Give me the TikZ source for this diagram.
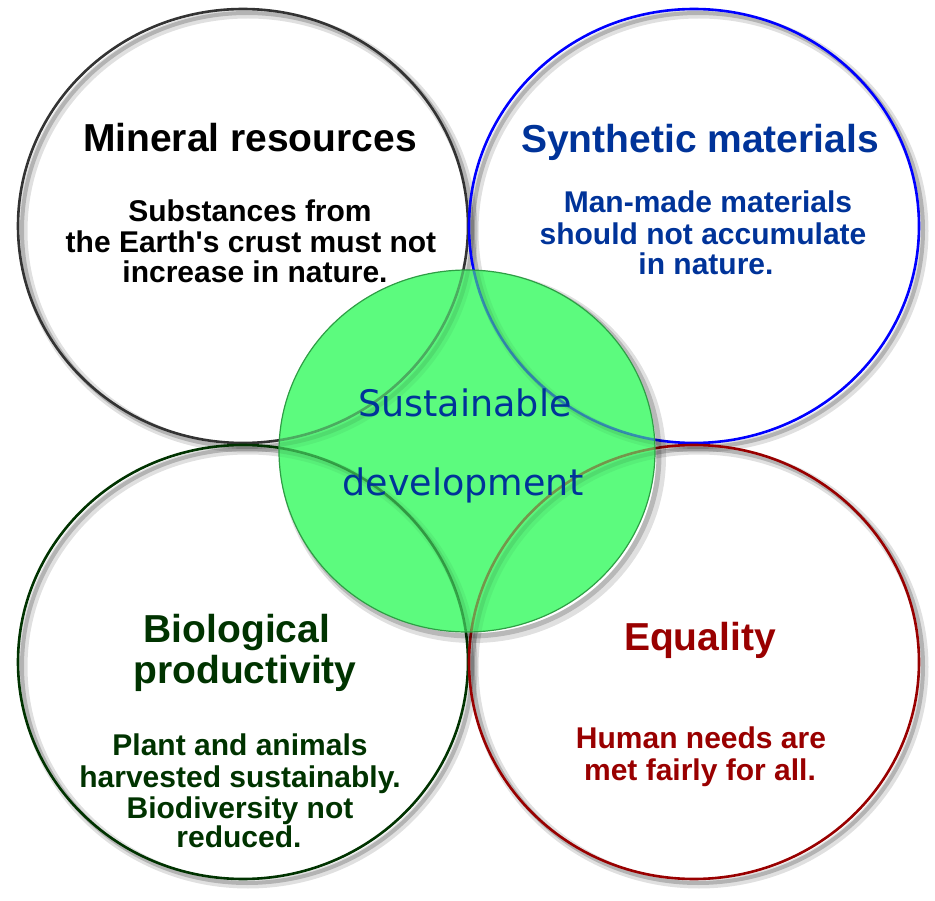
\documentclass[tikz,border=0pt]{standalone}
\usepackage{fontspec}
\newfontfamily\titlefont{Liberation Sans}
\newfontfamily\centerfont{DejaVu Sans}
\definecolor{tlc}{HTML}{333333}
\definecolor{tlt}{HTML}{000000}
\definecolor{trc}{HTML}{0000FF}
\definecolor{trt}{HTML}{003399}
\definecolor{blc}{HTML}{003300}
\definecolor{brc}{HTML}{990000}
\definecolor{sdfill}{HTML}{5CFB7E}
\definecolor{sdline}{HTML}{2E9E45}
\definecolor{sdtext}{HTML}{003399}
\tikzset{
  ringshadow/.style={draw=black, line width=9pt, opacity=0.12},
  ringshadowb/.style={draw=black, line width=4pt, opacity=0.20},
  ring/.style={line width=2.6pt},
  ttl/.style={anchor=base, inner sep=0pt, font=\titlefont\bfseries\fontsize{39}{41}\selectfont},
  bdy/.style={anchor=base, inner sep=0pt, font=\titlefont\bfseries\fontsize{30}{31}\selectfont},
  ctr/.style={anchor=base, inner sep=0pt, font=\centerfont\fontsize{36.5}{40}\selectfont, text=sdtext}
}
\newcommand\ringsall[1]{%
  \foreach \cx/\cy in {243/226, 694/226, 243/662, 694/662}{
    \draw[ringshadow, opacity=#1*0.12] (\cx+5,\cy+5) ellipse [x radius=225pt, y radius=217pt];
    \draw[ringshadowb, opacity=#1*0.20] (\cx+4,\cy+4) ellipse [x radius=225pt, y radius=217pt];
  }
  \draw[ring, draw=tlc, opacity=#1] (243,226) ellipse [x radius=225pt, y radius=217pt];
  \draw[ring, draw=trc, opacity=#1] (694,226) ellipse [x radius=225pt, y radius=217pt];
  \draw[ring, draw=blc, opacity=#1] (243,662) ellipse [x radius=225pt, y radius=217pt];
  \draw[ring, draw=brc, opacity=#1] (694,662) ellipse [x radius=225pt, y radius=217pt];
}
\begin{document}
\begin{tikzpicture}[x=1pt,y=-1pt]
\useasboundingbox (0,0) rectangle (935,901);
% outer rings with shadows
\ringsall{1}
% green circle shadow
\draw[draw=black, line width=10pt, opacity=0.12] (473,457) ellipse [x radius=188pt, y radius=181pt];
\draw[draw=black, line width=5pt, opacity=0.18] (471,455) ellipse [x radius=188pt, y radius=181pt];
% green circle
\fill[sdfill] (467,451) ellipse [x radius=188pt, y radius=181pt];
\begin{scope}
  \clip (467,451) ellipse [x radius=188pt, y radius=181pt];
  \ringsall{0.4}
\end{scope}
\draw[sdline, line width=1.2pt] (467,451) ellipse [x radius=188pt, y radius=181pt];
% center text
\node[ctr] (c1) at (465,417) {Sustainable};
\node[ctr] (c2) at (463,495) {development};
% top-left
\node[ttl, text=tlt] (tl0) at (250,152) {Mineral resources};
\node[bdy, text=tlt] (tl1) at (250,222) {Substances from};
\node[bdy, text=tlt] (tl2) at (251,253) {the Earth's crust must not};
\node[bdy, text=tlt] (tl3) at (255,283) {increase in nature.};
% top-right
\node[ttl, text=trt] (tr0) at (700,153) {Synthetic materials};
\node[bdy, text=trt] (tr1) at (708,213) {Man-made materials};
\node[bdy, text=trt] (tr2) at (703,245) {should not accumulate};
\node[bdy, text=trt] (tr3) at (706,275) {in nature.};
% bottom-left
\node[ttl, text=blc] (bl0) at (237,642) {Biological};
\node[ttl, text=blc] (bl1) at (245,683) {productivity};
\node[bdy, text=blc] (bl2) at (240,755) {Plant and animals};
\node[bdy, text=blc] (bl3) at (240,787) {harvested sustainably.};
\node[bdy, text=blc] (bl4) at (240,818) {Biodiversity not};
\node[bdy, text=blc] (bl5) at (239,847) {reduced.};
% bottom-right
\node[ttl, text=brc] (br0) at (700,650) {Equality};
\node[bdy, text=brc] (br1) at (701,748) {Human needs are};
\node[bdy, text=brc] (br2) at (700,780) {met fairly for all.};
\end{tikzpicture}
\end{document}
